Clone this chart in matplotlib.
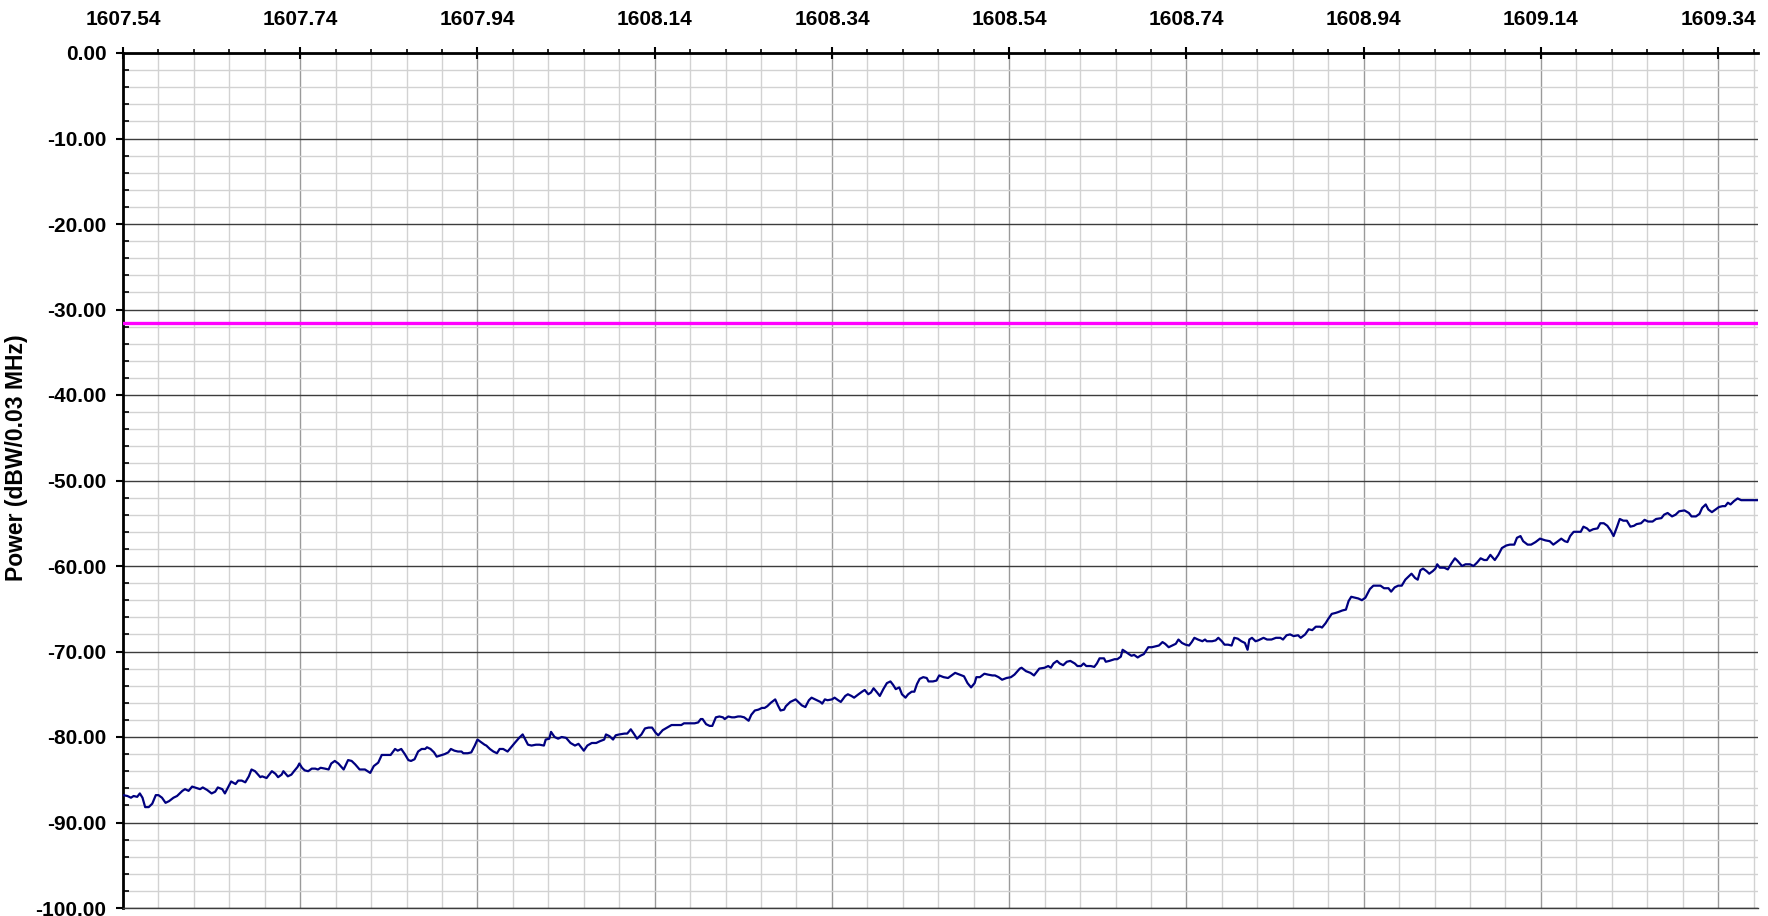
import matplotlib.pyplot as plt
from matplotlib.ticker import FixedLocator, MultipleLocator, FormatStrFormatter
import numpy as np

plt.rcParams['font.family'] = ['Liberation Sans', 'DejaVu Sans']
plt.rcParams['font.weight'] = 'bold'

# spectrum trace
freq_mhz = [
    1607.540, 1607.545, 1607.549, 1607.552, 1607.556, 1607.559, 1607.562, 1607.565, 1607.569, 1607.573,
    1607.577, 1607.580, 1607.584, 1607.588, 1607.592, 1607.597, 1607.601, 1607.607, 1607.610, 1607.614,
    1607.618, 1607.624, 1607.627, 1607.630, 1607.635, 1607.640, 1607.644, 1607.647, 1607.652, 1607.655,
    1607.659, 1607.662, 1607.667, 1607.670, 1607.674, 1607.678, 1607.682, 1607.685, 1607.689, 1607.695,
    1607.697, 1607.702, 1607.708, 1607.712, 1607.715, 1607.719, 1607.721, 1607.726, 1607.730, 1607.733,
    1607.737, 1607.739, 1607.742, 1607.745, 1607.749, 1607.753, 1607.757, 1607.760, 1607.763, 1607.768,
    1607.772, 1607.775, 1607.779, 1607.783, 1607.789, 1607.794, 1607.798, 1607.802, 1607.807, 1607.813,
    1607.819, 1607.823, 1607.828, 1607.832, 1607.837, 1607.842, 1607.847, 1607.850, 1607.854, 1607.858,
    1607.862, 1607.865, 1607.869, 1607.873, 1607.877, 1607.881, 1607.883, 1607.887, 1607.891, 1607.894,
    1607.897, 1607.903, 1607.907, 1607.910, 1607.914,
    1607.918, 1607.922, 1607.924, 1607.929, 1607.933, 1607.937, 1607.940, 1607.944, 1607.948, 1607.950,
    1607.954, 1607.958, 1607.962, 1607.965, 1607.969, 1607.974, 1607.978, 1607.982, 1607.987, 1607.991,
    1607.994, 1607.997, 1608.001, 1608.006, 1608.010, 1608.015, 1608.017, 1608.021, 1608.023, 1608.027,
    1608.031, 1608.035, 1608.040, 1608.045, 1608.050, 1608.054, 1608.057, 1608.060, 1608.064, 1608.069,
    1608.074, 1608.078, 1608.083, 1608.085, 1608.089, 1608.093, 1608.096, 1608.100, 1608.106, 1608.109,
    1608.113, 1608.117, 1608.120, 1608.125, 1608.129, 1608.133, 1608.137, 1608.141, 1608.144, 1608.149,
    1608.154, 1608.159, 1608.164, 1608.170, 1608.173, 1608.179, 1608.185, 1608.189, 1608.192, 1608.194,
    1608.198, 1608.202, 1608.205, 1608.209, 1608.213, 1608.217, 1608.219, 1608.223, 1608.227, 1608.230,
    1608.234, 1608.237, 1608.241, 1608.246, 1608.249, 1608.253, 1608.257, 1608.261, 1608.264, 1608.267,
    1608.271, 1608.276, 1608.279, 1608.282, 1608.286,
    1608.288, 1608.293, 1608.299, 1608.302, 1608.306, 1608.310, 1608.314, 1608.317, 1608.321, 1608.327,
    1608.329, 1608.332, 1608.335, 1608.340, 1608.343, 1608.347, 1608.350, 1608.355, 1608.358, 1608.362,
    1608.365, 1608.370, 1608.374, 1608.377, 1608.381, 1608.384, 1608.387, 1608.391, 1608.394, 1608.398,
    1608.402, 1608.406, 1608.409, 1608.412, 1608.416, 1608.419, 1608.423, 1608.426, 1608.430, 1608.433,
    1608.436, 1608.439, 1608.443, 1608.447, 1608.449, 1608.454, 1608.458, 1608.461, 1608.466, 1608.471,
    1608.475, 1608.479, 1608.484, 1608.489, 1608.493, 1608.497, 1608.501, 1608.503, 1608.507, 1608.512,
    1608.516, 1608.521, 1608.524, 1608.528, 1608.532, 1608.537, 1608.542, 1608.546, 1608.552, 1608.554,
    1608.559, 1608.564, 1608.568, 1608.571, 1608.574, 1608.580, 1608.584, 1608.587, 1608.590, 1608.594,
    1608.597, 1608.601, 1608.605, 1608.609, 1608.614, 1608.617, 1608.621, 1608.624, 1608.627, 1608.632,
    1608.636, 1608.639, 1608.642, 1608.647, 1608.649, 1608.653, 1608.659,
    1608.662, 1608.666, 1608.668, 1608.671, 1608.675, 1608.678, 1608.681, 1608.685, 1608.688, 1608.692,
    1608.697, 1608.701, 1608.705, 1608.709, 1608.713, 1608.716, 1608.720, 1608.724, 1608.728, 1608.731,
    1608.735, 1608.739, 1608.743, 1608.746, 1608.749, 1608.753, 1608.758, 1608.761, 1608.763, 1608.769,
    1608.773, 1608.776, 1608.780, 1608.783, 1608.787, 1608.791, 1608.794, 1608.798, 1608.802, 1608.806,
    1608.809, 1608.811, 1608.814, 1608.818, 1608.821, 1608.827, 1608.831, 1608.836, 1608.841, 1608.846,
    1608.849, 1608.853, 1608.857, 1608.861, 1608.866, 1608.869, 1608.874, 1608.878, 1608.882, 1608.886,
    1608.891, 1608.893, 1608.897, 1608.900, 1608.904, 1608.908, 1608.911, 1608.916, 1608.920, 1608.923,
    1608.926, 1608.930, 1608.934, 1608.938, 1608.942, 1608.947, 1608.951, 1608.956, 1608.959, 1608.963,
    1608.968, 1608.971, 1608.975, 1608.979, 1608.983, 1608.987, 1608.991, 1608.994, 1608.998, 1609.001,
    1609.004, 1609.007, 1609.011, 1609.014, 1609.018, 1609.021, 1609.023, 1609.026, 1609.031,
    1609.035, 1609.039, 1609.043, 1609.046, 1609.051, 1609.055, 1609.060, 1609.064, 1609.068, 1609.072,
    1609.076, 1609.079, 1609.083, 1609.088, 1609.092, 1609.096, 1609.101, 1609.105, 1609.110, 1609.113,
    1609.117, 1609.120, 1609.125, 1609.129, 1609.134, 1609.139, 1609.145, 1609.150, 1609.154, 1609.158,
    1609.163, 1609.167, 1609.170, 1609.173, 1609.177, 1609.182, 1609.185, 1609.188, 1609.192, 1609.195,
    1609.199, 1609.204, 1609.207, 1609.211, 1609.215, 1609.219, 1609.222, 1609.226, 1609.229, 1609.233,
    1609.237, 1609.241, 1609.245, 1609.248, 1609.253, 1609.257, 1609.261, 1609.266, 1609.270, 1609.276,
    1609.279, 1609.283, 1609.288, 1609.292, 1609.296, 1609.302, 1609.307, 1609.310, 1609.315, 1609.319,
    1609.322, 1609.326, 1609.329, 1609.333, 1609.337, 1609.341, 1609.345, 1609.348, 1609.351, 1609.354,
    1609.358, 1609.362, 1609.366, 1609.372, 1609.378, 1609.385,
]
power_dbw = [
    -86.8, -86.9, -87.1, -86.9, -87.0, -86.6, -87.1, -88.2, -88.2, -87.8,
    -86.8, -86.8, -87.1, -87.7, -87.5, -87.1, -86.9, -86.3, -86.1, -86.3,
    -85.8, -86.0, -86.1, -85.9, -86.2, -86.6, -86.4, -85.9, -86.1, -86.6,
    -85.8, -85.2, -85.5, -85.1, -85.1, -85.3, -84.6, -83.8, -84.0, -84.7,
    -84.6, -84.8, -84.0, -84.3, -84.7, -84.4, -84.0, -84.6, -84.4, -84.0,
    -83.5, -83.1, -83.6, -83.9, -84.0, -83.7, -83.7, -83.8, -83.6, -83.7,
    -83.8, -83.1, -82.8, -83.1, -83.8, -82.7, -82.8, -83.2, -83.8, -83.8,
    -84.2, -83.4, -83.0, -82.1, -82.1, -82.1, -81.4, -81.6, -81.4, -82.0,
    -82.7, -82.8, -82.6, -81.7, -81.4, -81.4, -81.2, -81.4, -81.8, -82.3,
    -82.2, -82.0, -81.8, -81.4, -81.6,
    -81.7, -81.7, -81.9, -81.9, -81.8, -81.0, -80.3, -80.6, -80.9, -81.0,
    -81.4, -81.7, -81.9, -81.4, -81.4, -81.7, -81.2, -80.7, -80.1, -79.7,
    -80.3, -80.9, -81.0, -80.9, -80.9, -81.0, -80.3, -80.2, -79.4, -80.0,
    -80.2, -80.0, -80.1, -80.7, -81.0, -80.8, -81.2, -81.6, -81.0, -80.7,
    -80.7, -80.5, -80.3, -79.7, -79.9, -80.3, -79.8, -79.7, -79.6, -79.6,
    -79.1, -79.7, -80.2, -79.7, -79.0, -78.9, -78.9, -79.5, -79.8, -79.2,
    -78.9, -78.6, -78.6, -78.6, -78.4, -78.4, -78.4, -78.3, -77.9, -77.9,
    -78.5, -78.7, -78.7, -77.7, -77.6, -77.7, -77.9, -77.6, -77.7, -77.7,
    -77.6, -77.6, -77.7, -78.1, -77.4, -76.9, -76.8, -76.6, -76.6, -76.4,
    -76.0, -75.6, -76.3, -76.9, -76.8,
    -76.4, -75.9, -75.6, -75.9, -76.3, -76.5, -75.7, -75.4, -75.6, -75.9,
    -76.1, -75.6, -75.7, -75.6, -75.4, -75.7, -75.9, -75.2, -75.0, -75.2,
    -75.4, -75.0, -74.7, -74.5, -75.0, -74.8, -74.3, -74.8, -75.2, -74.4,
    -73.7, -73.5, -73.9, -74.4, -74.2, -75.0, -75.4, -75.0, -74.7, -74.7,
    -73.8, -73.2, -73.0, -73.1, -73.5, -73.5, -73.4, -72.8, -73.0, -73.1,
    -72.8, -72.5, -72.7, -72.9, -73.7, -74.2, -73.7, -73.0, -73.0, -72.6,
    -72.7, -72.8, -72.8, -73.0, -73.3, -73.1, -73.0, -72.7, -72.0, -71.9,
    -72.3, -72.5, -72.8, -72.4, -72.0, -71.9, -71.7, -71.9, -71.4, -71.1,
    -71.4, -71.6, -71.2, -71.1, -71.4, -71.7, -71.7, -71.4, -71.7, -71.7,
    -71.8, -71.4, -70.8, -70.8, -71.2, -71.1, -70.9,
    -70.9, -70.6, -69.8, -70.0, -70.3, -70.5, -70.4, -70.7, -70.5, -70.3,
    -69.5, -69.5, -69.4, -69.3, -68.9, -69.1, -69.5, -69.3, -69.1, -68.6,
    -69.0, -69.2, -69.3, -68.9, -68.4, -68.6, -68.8, -68.6, -68.8, -68.8,
    -68.7, -68.4, -68.8, -69.2, -69.2, -69.3, -68.4, -68.5, -68.8, -69.0,
    -69.8, -68.6, -68.4, -68.8, -68.7, -68.4, -68.6, -68.6, -68.4, -68.4,
    -68.6, -68.1, -68.0, -68.2, -68.1, -68.4, -68.0, -67.4, -67.5, -67.1,
    -67.1, -67.2, -66.7, -66.2, -65.6, -65.5, -65.4, -65.2, -65.1, -64.1,
    -63.6, -63.7, -63.8, -64.0, -63.7, -62.7, -62.3, -62.3, -62.3, -62.6,
    -62.6, -63.0, -62.5, -62.3, -62.3, -61.6, -61.2, -60.9, -61.4, -61.6,
    -60.5, -60.3, -60.6, -60.9, -60.6, -60.3, -59.8, -60.2, -60.2,
    -60.4, -59.7, -59.1, -59.4, -60.0, -59.8, -59.8, -60.0, -59.6, -59.1,
    -59.3, -59.3, -58.7, -59.3, -58.7, -57.9, -57.6, -57.5, -57.5, -56.7,
    -56.5, -57.1, -57.5, -57.5, -57.2, -56.8, -57.0, -57.1, -57.5, -57.2,
    -56.8, -57.1, -57.2, -56.5, -56.0, -56.0, -56.0, -55.4, -55.6, -55.9,
    -55.7, -55.6, -55.0, -55.0, -55.3, -55.9, -56.5, -55.4, -54.5, -54.7,
    -54.7, -55.4, -55.3, -55.1, -55.0, -54.6, -54.8, -54.8, -54.5, -54.4,
    -54.0, -53.8, -54.2, -54.0, -53.6, -53.5, -53.8, -54.2, -54.2, -53.9,
    -53.2, -52.8, -53.4, -53.7, -53.4, -53.1, -53.0, -53.0, -52.6, -52.8,
    -52.4, -52.1, -52.3, -52.3, -52.3, -52.3,
]
limit_dbw = -31.6

x_ticks = [1607.54, 1607.74, 1607.94, 1608.14, 1608.34, 1608.54, 1608.74, 1608.94, 1609.14, 1609.34]
x_min, x_max = 1607.54, 1609.385
y_min, y_max = -100, 0

fig = plt.figure(figsize=(17.68, 9.16), dpi=100)
ax = fig.add_axes([123 / 1768, 8 / 916, 1635 / 1768, 855 / 916])

ax.plot(freq_mhz, power_dbw, color='#000080', linewidth=1.6, zorder=3)
ax.axhline(limit_dbw, color='#ff00ff', linewidth=2.4, zorder=3)

ax.set_xlim(x_min, x_max)
ax.set_ylim(y_min, y_max)

ax.xaxis.tick_top()
ax.xaxis.set_major_locator(FixedLocator(x_ticks))
ax.xaxis.set_minor_locator(FixedLocator(np.arange(x_min, x_max, 0.04)))
ax.xaxis.set_major_formatter(FormatStrFormatter('%.2f'))
ax.yaxis.set_major_locator(MultipleLocator(10))
ax.yaxis.set_minor_locator(MultipleLocator(2))
ax.yaxis.set_major_formatter(FormatStrFormatter('%.2f'))

ax.set_axisbelow(True)
ax.grid(which='minor', color='#d2d2d2', linewidth=1.0)
ax.grid(which='major', axis='x', color='#9a9a9a', linewidth=1.0)
ax.grid(which='major', axis='y', color='#3c3c3c', linewidth=1.0)

ax.tick_params(axis='x', which='major', direction='inout', length=9, width=1.5,
               labelsize=15, pad=13, top=True, bottom=False)
ax.tick_params(axis='x', which='minor', direction='out', length=3, width=1.2,
               top=True, bottom=False)
ax.tick_params(axis='y', which='major', direction='out', length=5, width=1.5,
               labelsize=15, pad=7)
ax.tick_params(axis='y', which='minor', direction='in', length=4, width=1.2)

for side in ['left', 'top']:
    ax.spines[side].set_linewidth(2)
    ax.spines[side].set_color('black')
ax.spines['right'].set_visible(False)
ax.spines['bottom'].set_color('#3c3c3c')
ax.spines['bottom'].set_linewidth(1.0)

ax.set_ylabel('Power (dBW/0.03 MHz)', fontsize=16.5, fontweight='bold')
ax.yaxis.set_label_coords(-0.058, 0.527)

fig.savefig('out.png', dpi=100)
